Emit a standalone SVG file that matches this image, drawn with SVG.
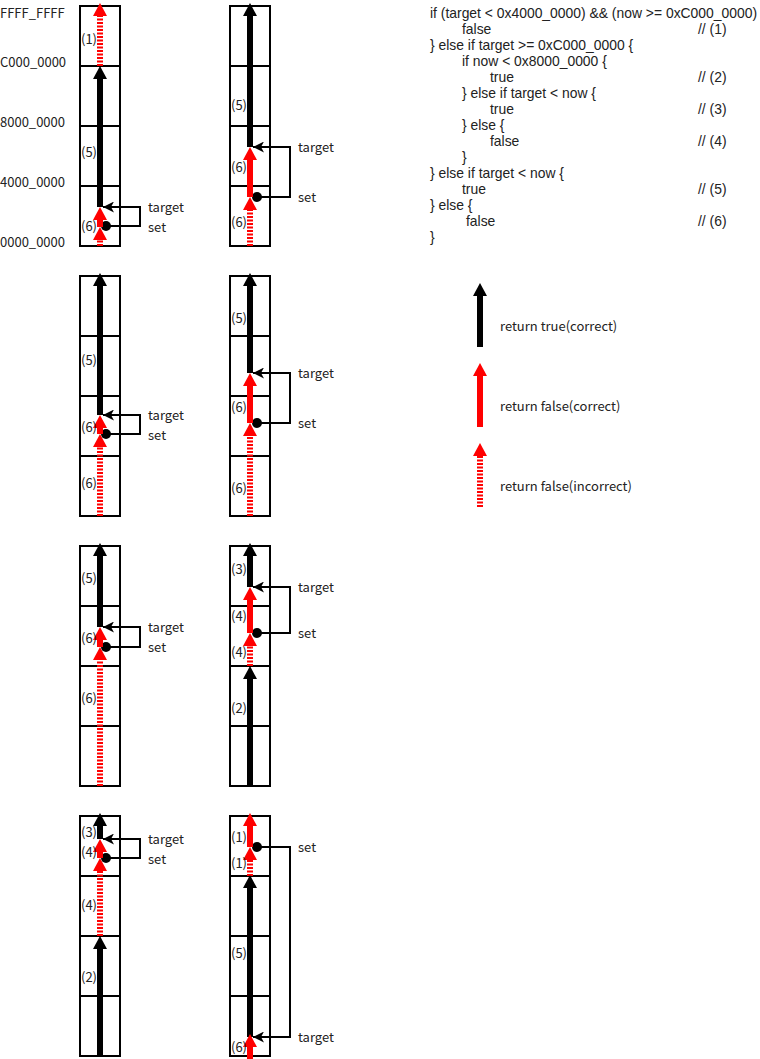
<svg xmlns="http://www.w3.org/2000/svg" width="760" height="1059" viewBox="0 0 760 1059">
<defs>
<style>
text{font-family:"Noto Sans CJK JP","Liberation Sans",sans-serif;font-size:13px;fill:#222}
.code text{font-family:"Liberation Sans","Noto Sans CJK JP",sans-serif;font-size:13.9px}
.cell{fill:#fff;stroke:#000;stroke-width:2}
.div{stroke:#000;stroke-width:2}
.blk{stroke:#000;stroke-width:6;fill:none}
.red{stroke:#f00;stroke-width:6;fill:none}
.dsh{stroke:#f00;stroke-width:6;fill:none;stroke-dasharray:2 1.5}
.conn{stroke:#000;stroke-width:2;fill:none}
</style>
<marker id="hb" markerUnits="userSpaceOnUse" viewBox="0 0 13 14" refX="0" refY="7" markerWidth="13" markerHeight="14" orient="auto"><path d="M0,0 L13,7 L0,14 z" fill="#000"/></marker>
<marker id="hr" markerUnits="userSpaceOnUse" viewBox="0 0 13 14" refX="0" refY="7" markerWidth="13" markerHeight="14" orient="auto"><path d="M0,0 L13,7 L0,14 z" fill="#f00"/></marker>
<marker id="ht" markerUnits="userSpaceOnUse" viewBox="0 0 11 11" refX="11" refY="5.5" markerWidth="11" markerHeight="11" orient="auto"><path d="M0,0 L11,5.5 L0,11 L3,5.5 z" fill="#000"/></marker>
<g id="col">
<rect class="cell" x="-20" y="0" width="40" height="240"/>
<line class="div" x1="-20" y1="60" x2="20" y2="60"/>
<line class="div" x1="-20" y1="120" x2="20" y2="120"/>
<line class="div" x1="-20" y1="180" x2="20" y2="180"/>
</g>
</defs>

<g id="axis-labels">
<text x="0" y="18">FFFF_FFFF</text>
<text x="0" y="67">C000_0000</text>
<text x="0" y="127">8000_0000</text>
<text x="0" y="187">4000_0000</text>
<text x="0" y="247">0000_0000</text>
</g>

<g id="panel-a1">
<use href="#col" x="100" y="6"/>
<circle cx="106" cy="226" r="5" fill="#000"/>
<line class="dsh" x1="100" y1="66" x2="100" y2="16" marker-end="url(#hr)"/>
<line class="blk" x1="100" y1="207" x2="100" y2="79" marker-end="url(#hb)"/>
<line class="red" x1="100" y1="227" x2="100" y2="220" marker-end="url(#hr)"/>
<line class="dsh" x1="100" y1="246" x2="100" y2="240" marker-end="url(#hr)"/>
<text x="81" y="44">(1)</text>
<text x="81" y="157">(5)</text>
<text x="81" y="231">(6)</text>
<text x="148" y="212">target</text>
<text x="148" y="232">set</text>
</g>

<g id="panel-b1">
<use href="#col" x="250" y="6"/>
<circle cx="257" cy="197" r="5" fill="#000"/>
<line class="blk" x1="250" y1="147" x2="250" y2="16" marker-end="url(#hb)"/>
<line class="red" x1="250" y1="197" x2="250" y2="160" marker-end="url(#hr)"/>
<line class="dsh" x1="250" y1="246" x2="250" y2="210" marker-end="url(#hr)"/>
<text x="231" y="110">(5)</text>
<text x="231" y="172">(6)</text>
<text x="231" y="227">(6)</text>
<text x="298" y="152">target</text>
<text x="298" y="202">set</text>
</g>

<g id="panel-a2">
<use href="#col" x="100" y="276"/>
<circle cx="106" cy="434" r="5" fill="#000"/>
<line class="blk" x1="100" y1="415" x2="100" y2="286" marker-end="url(#hb)"/>
<line class="red" x1="100" y1="434" x2="100" y2="428" marker-end="url(#hr)"/>
<line class="dsh" x1="100" y1="516" x2="100" y2="447" marker-end="url(#hr)"/>
<text x="81" y="365">(5)</text>
<text x="81" y="432">(6)</text>
<text x="81" y="488">(6)</text>
<text x="148" y="420">target</text>
<text x="148" y="440">set</text>
</g>

<g id="panel-b2">
<use href="#col" x="250" y="276"/>
<circle cx="257" cy="423" r="5" fill="#000"/>
<line class="blk" x1="250" y1="373" x2="250" y2="286" marker-end="url(#hb)"/>
<line class="red" x1="250" y1="423" x2="250" y2="386" marker-end="url(#hr)"/>
<line class="dsh" x1="250" y1="516" x2="250" y2="436" marker-end="url(#hr)"/>
<text x="231" y="323">(5)</text>
<text x="231" y="412">(6)</text>
<text x="231" y="493">(6)</text>
<text x="298" y="378">target</text>
<text x="298" y="428">set</text>
</g>

<g id="panel-a3">
<use href="#col" x="100" y="546"/>
<circle cx="106" cy="647" r="5" fill="#000"/>
<line class="blk" x1="100" y1="627" x2="100" y2="556" marker-end="url(#hb)"/>
<line class="red" x1="100" y1="647" x2="100" y2="640" marker-end="url(#hr)"/>
<line class="dsh" x1="100" y1="786" x2="100" y2="660" marker-end="url(#hr)"/>
<text x="81" y="583">(5)</text>
<text x="81" y="643">(6)</text>
<text x="81" y="703">(6)</text>
<text x="148" y="632">target</text>
<text x="148" y="652">set</text>
</g>

<g id="panel-b3">
<use href="#col" x="250" y="546"/>
<circle cx="257" cy="633" r="5" fill="#000"/>
<line class="blk" x1="250" y1="587" x2="250" y2="556" marker-end="url(#hb)"/>
<line class="red" x1="250" y1="633" x2="250" y2="600" marker-end="url(#hr)"/>
<line class="dsh" x1="250" y1="666" x2="250" y2="646" marker-end="url(#hr)"/>
<line class="blk" x1="250" y1="786" x2="250" y2="679" marker-end="url(#hb)"/>
<text x="231" y="574">(3)</text>
<text x="231" y="621">(4)</text>
<text x="231" y="657">(4)</text>
<text x="231" y="713">(2)</text>
<text x="298" y="592">target</text>
<text x="298" y="638">set</text>
</g>

<g id="panel-a4">
<use href="#col" x="100" y="816"/>
<circle cx="106" cy="858" r="5" fill="#000"/>
<line class="blk" x1="100" y1="839" x2="100" y2="826" marker-end="url(#hb)"/>
<line class="red" x1="100" y1="858" x2="100" y2="852" marker-end="url(#hr)"/>
<line class="dsh" x1="100" y1="936" x2="100" y2="871" marker-end="url(#hr)"/>
<line class="blk" x1="100" y1="1056" x2="100" y2="949" marker-end="url(#hb)"/>
<text x="81" y="837">(3)</text>
<text x="81" y="857">(4)</text>
<text x="81" y="910">(4)</text>
<text x="81" y="982">(2)</text>
<text x="148" y="844">target</text>
<text x="148" y="864">set</text>
</g>

<g id="panel-b4">
<use href="#col" x="250" y="816"/>
<circle cx="257" cy="847" r="5" fill="#000"/>
<line class="red" x1="250" y1="847" x2="250" y2="826" marker-end="url(#hr)"/>
<line class="dsh" x1="250" y1="876" x2="250" y2="860" marker-end="url(#hr)"/>
<line class="blk" x1="250" y1="1037" x2="250" y2="888" marker-end="url(#hb)"/>
<line class="red" x1="250" y1="1059" x2="250" y2="1047" marker-end="url(#hr)"/>
<text x="231" y="842">(1)</text>
<text x="231" y="868">(1)</text>
<text x="231" y="958">(5)</text>
<text x="231" y="1052">(6)</text>
<text x="298" y="852">set</text>
<text x="298" y="1042">target</text>
</g>

<g id="connectors">
<path class="conn" d="M106,226 H140 V207 H103" marker-end="url(#ht)"/>
<path class="conn" d="M257,197 H290 V147 H253" marker-end="url(#ht)"/>
<path class="conn" d="M106,434 H140 V415 H103" marker-end="url(#ht)"/>
<path class="conn" d="M257,423 H290 V373 H253" marker-end="url(#ht)"/>
<path class="conn" d="M106,647 H140 V627 H103" marker-end="url(#ht)"/>
<path class="conn" d="M257,633 H290 V587 H253" marker-end="url(#ht)"/>
<path class="conn" d="M106,858 H140 V839 H103" marker-end="url(#ht)"/>
<path class="conn" d="M257,847 H290 V1037 H253" marker-end="url(#ht)"/>
</g>

<g id="code" class="code">
<text x="430" y="18">if (target &lt; 0x4000_0000) &amp;&amp; (now &gt;= 0xC000_0000)</text>
<text x="462" y="34">false</text><text x="698" y="34">// (1)</text>
<text x="430" y="50">} else if target &gt;= 0xC000_0000 {</text>
<text x="462" y="66">if now &lt; 0x8000_0000 {</text>
<text x="490" y="82">true</text><text x="698" y="82">// (2)</text>
<text x="462" y="98">} else if target &lt; now {</text>
<text x="490" y="114">true</text><text x="698" y="114">// (3)</text>
<text x="462" y="130">} else {</text>
<text x="490" y="146">false</text><text x="698" y="146">// (4)</text>
<text x="462" y="162">}</text>
<text x="430" y="178">} else if target &lt; now {</text>
<text x="462" y="194">true</text><text x="698" y="194">// (5)</text>
<text x="430" y="210">} else {</text>
<text x="466" y="226">false</text><text x="698" y="226">// (6)</text>
<text x="430" y="242">}</text>
</g>

<g id="legend">
<line class="blk" x1="480" y1="347" x2="480" y2="296" marker-end="url(#hb)"/>
<text x="500" y="331">return true(correct)</text>
<line class="red" x1="480" y1="427" x2="480" y2="376" marker-end="url(#hr)"/>
<text x="500" y="411">return false(correct)</text>
<line class="dsh" x1="480" y1="507" x2="480" y2="456" marker-end="url(#hr)"/>
<text x="500" y="491">return false(incorrect)</text>
</g>
</svg>
